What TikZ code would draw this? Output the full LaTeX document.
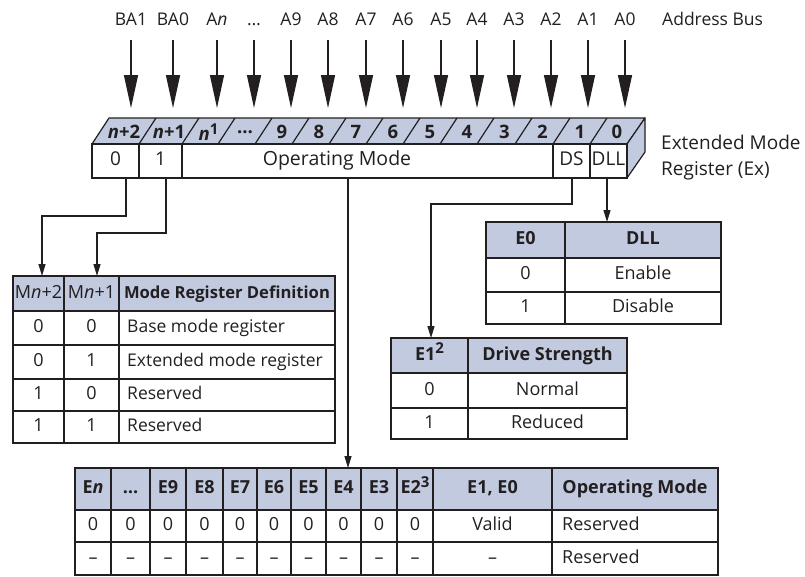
\documentclass[tikz,border=0pt]{standalone}
\usepackage{fontspec}
\setmainfont{Open Sans}
\usetikzlibrary{arrows.meta}
\definecolor{hdr}{RGB}{194,202,224}
\definecolor{ink}{RGB}{35,31,32}
\newcommand\tc[7]{\node[tcell,#6,minimum width={#4-#2},minimum height={#5-#3}] (#1) at ({(#2+#4)/2},{(#3+#5)/2}) {#7};}
\newcommand\supr[1]{\raisebox{0.62ex}{\fontsize{15}{15}\selectfont #1}}
\begin{document}
\begin{tikzpicture}[x=1pt,y=-1pt,
  tcell/.style={draw=ink, line width=1.2pt, inner sep=0pt, outer sep=0pt, text=ink,
    font=\fontsize{18}{20}\selectfont, text height=12.5pt, text depth=3.5pt},
  hd/.style={fill=hdr, font=\fontsize{18}{20}\selectfont\bfseries},
  lbl/.style={inner sep=0pt, text=ink, font=\fontsize{17.5}{20}\selectfont, text height=12.5pt, text depth=3.5pt},
  toplbl/.style={inner sep=0pt, text=ink, font=\fontsize{18.5}{20}\selectfont\bfseries},
  busarr/.style={draw=ink, line width=1.3pt, -{Triangle[length=33pt,width=14pt]}, shorten <=11pt},
  conn/.style={draw=ink, line width=1.2pt, -{Triangle[length=12pt,width=7pt]}},
  regline/.style={draw=ink, line width=1.2pt}
]
\useasboundingbox (0,0) rectangle (805,576);

% ---------- address bus ----------
\foreach \x/\t/\n in {131/BA1/ba1,173/BA0/ba0,217/{A\textit{n}}/an,254/…/dots,291/A9/a9,328/A8/a8,366/A7/a7,403/A6/a6,441/A5/a5,477/A4/a4,514/A3/a3,551/A2/a2,588/A1/a1,625/A0/a0}{
  \node[lbl] (l\n) at (\x,21) {\t};
  \coordinate (t\n) at (\x,108);
  \draw[busarr] (l\n) -- (t\n);
}
\node[lbl, anchor=west] (abus) at (662,21) {Address Bus};

% ---------- register ----------
\filldraw[regline, fill=hdr, line join=round] (92,144) -- (109,118) -- (645,118) -- (627,144) -- cycle;
\filldraw[regline, fill=hdr, line join=round] (627,144) -- (645,118) -- (645,152) -- (627,178) -- cycle;
\foreach \x in {139,182,218,255,292,329,366,403,440,477,515,553,590}{
  \draw[regline] (\x,144) -- ++(17,-26);
}
\foreach \a/\b/\t/\n in {92/139/{\textit{n}+2}/np2,139/182/{\textit{n}+1}/np1,182/218/{\textit{n}\supr{1}}/nn,218/255/…/ndots,255/292/9/b9,292/329/8/b8,329/366/7/b7,366/403/6/b6,403/440/5/b5,440/477/4/b4,477/515/3/b3,515/553/2/b2,553/590/1/b1,590/627/0/b0}{
  \node[toplbl] (top\n) at ({(\a+\b)/2+8.5},132) {\t};
}
\begin{scope}[tcell/.append style={font=\fontsize{19}{20}\selectfont}]
\tc{r0}{92}{144}{139}{178}{}{0}
\tc{r1}{139}{144}{182}{178}{}{1}
\tc{rop}{182}{144}{553}{178}{}{}
\tc{rds}{553}{144}{590}{178}{}{DS}
\tc{rdll}{590}{144}{627}{178}{}{DLL}
\end{scope}
\node[lbl, font=\fontsize{19.5}{20}\selectfont] (optext) at (337,161) {Operating Mode};
\node[lbl, anchor=west, font=\fontsize{19}{20}\selectfont] (ext1) at (661,145) {Extended Mode};
\node[lbl, anchor=west, font=\fontsize{19}{20}\selectfont] (ext2) at (661,171) {Register (Ex)};

% ---------- left table ----------
\tc{Lh1}{13}{276}{64}{311}{fill=hdr}{M\textit{n}+2}
\tc{Lh2}{64}{276}{119}{311}{fill=hdr}{M\textit{n}+1}
\tc{Lh3}{119}{276}{335}{311}{hd, font=\fontsize{16.6}{19}\selectfont\bfseries}{Mode Register Definition}
\foreach \ya/\yb/\p/\q/\d [count=\i] in {311/345/0/0/Base mode register,345/379/0/1/Extended mode register,379/411/1/0/Reserved,411/443/1/1/Reserved}{
  \tc{La\i}{13}{\ya}{64}{\yb}{}{\p}
  \tc{Lb\i}{64}{\ya}{119}{\yb}{}{\q}
  \tc{Lc\i}{119}{\ya}{335}{\yb}{}{}
  \node[lbl, anchor=west, font=\fontsize{17.5}{19}\selectfont] (Ld\i) at (127,{(\ya+\yb)/2}) {\d};
}

% ---------- DLL table ----------
\tc{Dh1}{486}{222}{565}{258}{hd}{E0}
\tc{Dh2}{565}{222}{721}{258}{hd}{DLL}
\tc{Da1}{486}{258}{565}{292}{}{0}
\tc{Db1}{565}{258}{721}{292}{}{Enable}
\tc{Da2}{486}{292}{565}{324}{}{1}
\tc{Db2}{565}{292}{721}{324}{}{Disable}

% ---------- drive strength table ----------
\tc{Sh1}{391}{338}{468}{373}{hd}{E1\supr{2}}
\tc{Sh2}{468}{338}{627}{373}{hd}{Drive Strength}
\tc{Sa1}{391}{373}{468}{408}{}{0}
\tc{Sb1}{468}{373}{627}{408}{}{Normal}
\tc{Sa2}{391}{408}{468}{439}{}{1}
\tc{Sb2}{468}{408}{627}{439}{}{Reduced}

% ---------- bottom table ----------
\foreach \a/\b/\h/\u/\v [count=\i] in {75/111/{E\textit{n}}/0/–,111/150/…/0/–,150/186/E9/0/–,186/223/E8/0/–,223/257/E7/0/–,257/291/E6/0/–,291/326/E5/0/–,326/361/E4/0/–,361/397/E3/0/–,397/433/{E2\supr{3}}/0/–,433/552/{E1, E0}/Valid/–}{
  \tc{Bh\i}{\a}{468}{\b}{510}{hd}{\h}
  \tc{Ba\i}{\a}{510}{\b}{542}{}{\u}
  \tc{Bb\i}{\a}{542}{\b}{575}{}{\v}
}
\tc{Bhm}{552}{468}{718}{510}{hd}{Operating Mode}
\tc{Bam}{552}{510}{718}{542}{}{}
\tc{Bbm}{552}{542}{718}{575}{}{}
\node[lbl, anchor=west, font=\fontsize{18}{19}\selectfont] (Bt1) at (562,526) {Reserved};
\node[lbl, anchor=west, font=\fontsize{18}{19}\selectfont] (Bt2) at (562,558.5) {Reserved};

% ---------- connectors ----------
\coordinate (c0) at (126,178);
\coordinate (c1) at (166,178);
\coordinate (cop) at (348,178);
\coordinate (cds) at (572,178);
\coordinate (cdll) at (607,178);
\coordinate (in0) at (42,276);
\coordinate (in1) at (97,276);
\coordinate (inop) at (348,468);
\coordinate (inds) at (431,338);
\coordinate (indll) at (607,222);
\draw[conn] (c0) -- ++(0,38) -| (in0);
\draw[conn] (c1) -- ++(0,55) -| (in1);
\draw[conn] (cop) -- (inop);
\draw[conn] (cds) -- ++(0,26) -| (inds);
\draw[conn] (cdll) -- (indll);
\end{tikzpicture}
\end{document}
